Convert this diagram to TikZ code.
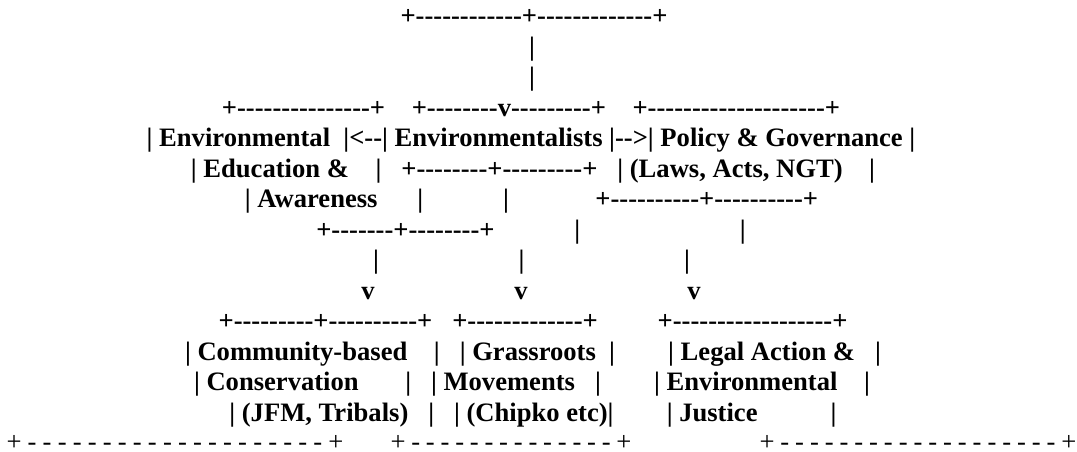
\documentclass[tikz,border=0pt]{standalone}
\usepackage{fontspec}
\newfontfamily\asc{Liberation Serif}
\newcommand\dd{\hfill-}
\begin{document}
\begin{tikzpicture}[x=1pt,y=-1pt,
  every node/.style={inner sep=0pt,outer sep=0pt,anchor=base},
  ascb/.style={font=\asc\bfseries\fontsize{26.6}{30.5}\selectfont},
  ascr/.style={font=\asc\fontsize{26.6}{30.5}\selectfont,anchor=base west,text depth=0pt}]
\useasboundingbox (0,0) rectangle (1077,452);
\fill[white] (0,0) rectangle (1077,452);
\node[ascb] (l1) at (534,24.6) {+------------+-------------+};
\node[ascb] (l2) at (532,55.1) {|};
\node[ascb] (l3) at (532,85.6) {|};
\node[ascb] (l4) at (531,116.1) {+---------------+~~~~+--------v---------+~~~~+--------------------+};
\node[ascb] (l5) at (531,146.6) {|~Environmental~~|<--|~Environmentalists~|-->|~Policy~\&~Governance~|};
\node[ascb] (l6) at (533,177.1) {|~Education~\&~~~~|~~~+--------+---------+~~~|~(Laws,~Acts,~NGT)~~~~|};
\node[ascb] (l7) at (531.5,207.6) {|~Awareness~~~~~~|~~~~~~~~~~~~|~~~~~~~~~~~~~+----------+----------+};
\node[ascb] (l8) at (531,238.1) {+-------+--------+~~~~~~~~~~~~|~~~~~~~~~~~~~~~~~~~~~~~~|};
\node[ascb] (l9) at (531.5,268.6) {|~~~~~~~~~~~~~~~~~~~~~|~~~~~~~~~~~~~~~~~~~~~~~~|};
\node[ascb] (l10) at (531,299.1) {v~~~~~~~~~~~~~~~~~~~~~v~~~~~~~~~~~~~~~~~~~~~~~~v};
\node[ascb] (l11) at (533,329.6) {+---------+----------+~~~+-------------+~~~~~~~~~+------------------+};
\node[ascb] (l12) at (533,360.1) {|~Community-based~~~~|~~~|~Grassroots~~|~~~~~~~~|~Legal~Action~\&~~~|};
\node[ascb] (l13) at (532,390.6) {|~Conservation~~~~~~~|~~~|~Movements~~~|~~~~~~~~|~Environmental~~~~|};
\node[ascb] (l14) at (533,421.1) {|~(JFM,~Tribals)~~~|~~~|~(Chipko~etc)|~~~~~~~~|~Justice~~~~~~~~~~~|};
\node[ascr] (l15a) at (6.5,450) {\makebox[337pt][s]{+\dd\dd\dd\dd\dd\dd\dd\dd\dd\dd\dd\dd\dd\dd\dd\dd\dd\dd\dd\dd\hfill+}};
\node[ascr] (l15b) at (390.5,450) {\makebox[241pt][s]{+\dd\dd\dd\dd\dd\dd\dd\dd\dd\dd\dd\dd\dd\dd\hfill+}};
\node[ascr] (l15c) at (759.5,450) {\makebox[317pt][s]{+\dd\dd\dd\dd\dd\dd\dd\dd\dd\dd\dd\dd\dd\dd\dd\dd\dd\dd\dd\hfill+}};
\end{tikzpicture}
\end{document}
